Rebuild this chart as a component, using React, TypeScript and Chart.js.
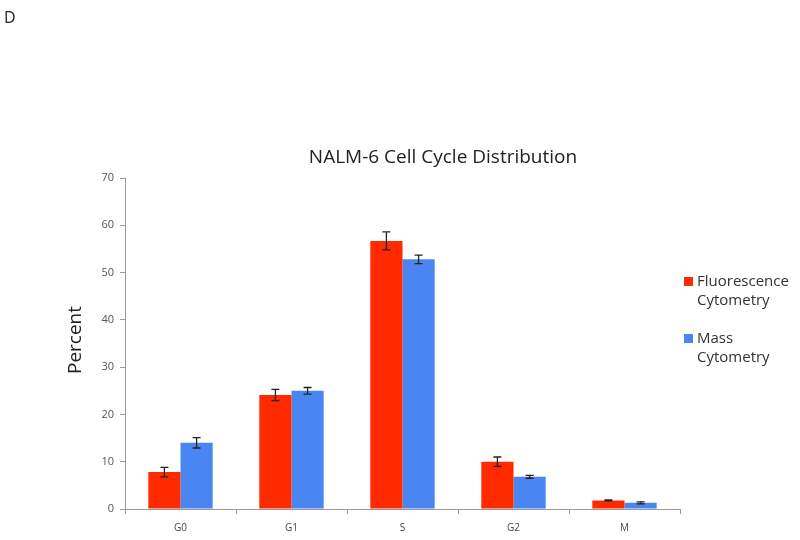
import React, { useEffect, useRef } from "react";
import { Chart, registerables } from "chart.js";

Chart.register(...registerables);

const categories = ["G0", "G1", "S", "G2", "M"];
const fluorescence = [7.8, 24.1, 56.7, 10.0, 1.8];
const fluorescenceErr = [1.0, 1.2, 1.9, 1.0, 0.1];
const mass = [14.0, 25.0, 52.8, 6.8, 1.3];
const massErr = [1.1, 0.7, 0.9, 0.3, 0.2];
const yTicks = [0, 10, 20, 30, 40, 50, 60, 70];

const RED = "#ff2a00";
const BLUE = "#4a86f2";
const FONT = "'Open Sans', 'Liberation Sans', sans-serif";

const errorBars = {
  id: "errorBars",
  afterDatasetsDraw(chart: any) {
    const ctx = chart.ctx;
    const y = chart.scales.y;
    const errs = [fluorescenceErr, massErr];
    chart.data.datasets.forEach((ds: any, di: number) => {
      const meta = chart.getDatasetMeta(di);
      meta.data.forEach((bar: any, i: number) => {
        const v = ds.data[i];
        const e = errs[di][i];
        const x = bar.x;
        const top = y.getPixelForValue(v + e);
        const bot = y.getPixelForValue(v - e);
        ctx.save();
        ctx.strokeStyle = "#222";
        ctx.lineWidth = 1.3;
        ctx.beginPath();
        ctx.moveTo(x, top);
        ctx.lineTo(x, bot);
        ctx.moveTo(x - 4, top);
        ctx.lineTo(x + 4, top);
        ctx.moveTo(x - 4, bot);
        ctx.lineTo(x + 4, bot);
        ctx.stroke();
        ctx.restore();
      });
    });
  },
};

const decorations = {
  id: "decorations",
  afterDraw(chart: any) {
    const ctx = chart.ctx;
    ctx.save();
    ctx.fillStyle = "#222";
    ctx.textBaseline = "middle";
    ctx.font = `16px ${FONT}`;
    ctx.textAlign = "left";
    ctx.fillText("D", 4, 18);

    ctx.font = `19px ${FONT}`;
    ctx.textAlign = "center";
    ctx.fillText("NALM-6 Cell Cycle Distribution", 443, 158);

    ctx.save();
    ctx.translate(76, 340);
    ctx.rotate(-Math.PI / 2);
    ctx.font = `19px ${FONT}`;
    ctx.fillText("Percent", 0, 0);
    ctx.restore();

    const items = [
      { color: RED, lines: ["Fluorescence", "Cytometry"], y: 282 },
      { color: BLUE, lines: ["Mass", "Cytometry"], y: 339 },
    ];
    ctx.font = `15px ${FONT}`;
    ctx.textAlign = "left";
    items.forEach((it) => {
      ctx.fillStyle = it.color;
      ctx.fillRect(684, it.y - 5, 9, 9);
      ctx.fillStyle = "#333";
      it.lines.forEach((l, k) => ctx.fillText(l, 697, it.y + k * 19));
    });
    ctx.restore();
  },
};

export default function App() {
  const ref = useRef<HTMLCanvasElement>(null);
  useEffect(() => {
    if (!ref.current) return;
    const chart = new Chart(ref.current, {
      type: "bar",
      data: {
        labels: categories,
        datasets: [
          { label: "Fluorescence Cytometry", data: fluorescence, backgroundColor: RED },
          { label: "Mass Cytometry", data: mass, backgroundColor: BLUE },
        ],
      },
      options: {
        animation: false,
        responsive: false,
        layout: { padding: { top: 178, right: 120, left: 0, bottom: 0 } },
        datasets: { bar: { categoryPercentage: 0.58, barPercentage: 1 } },
        plugins: { legend: { display: false }, title: { display: false }, tooltip: { enabled: false } },
        scales: {
          x: {
            grid: { drawOnChartArea: false, color: "#999", tickLength: 5, offset: true },
            border: { color: "#999" },
            ticks: { color: "#444", font: { family: FONT, size: 10 }, padding: 8 },
            afterFit: (s: any) => { s.height = 31; },
          },
          y: {
            min: 0,
            max: 70,
            afterBuildTicks: (s: any) => { s.ticks = yTicks.map((v) => ({ value: v })); },
            grid: { drawOnChartArea: false, color: "#999", tickLength: 5 },
            border: { color: "#999" },
            ticks: { color: "#555", font: { family: FONT, size: 11 }, padding: 6 },
            afterFit: (s: any) => { s.width = 125; },
          },
        },
      },
      plugins: [errorBars, decorations],
    });
    return () => chart.destroy();
  }, []);
  return (
    <div style={{ position: "fixed", left: 0, top: 0, width: 800, height: 540, background: "#fff" }}>
      <canvas ref={ref} width={800} height={540} style={{ width: 800, height: 540 }} />
    </div>
  );
}
